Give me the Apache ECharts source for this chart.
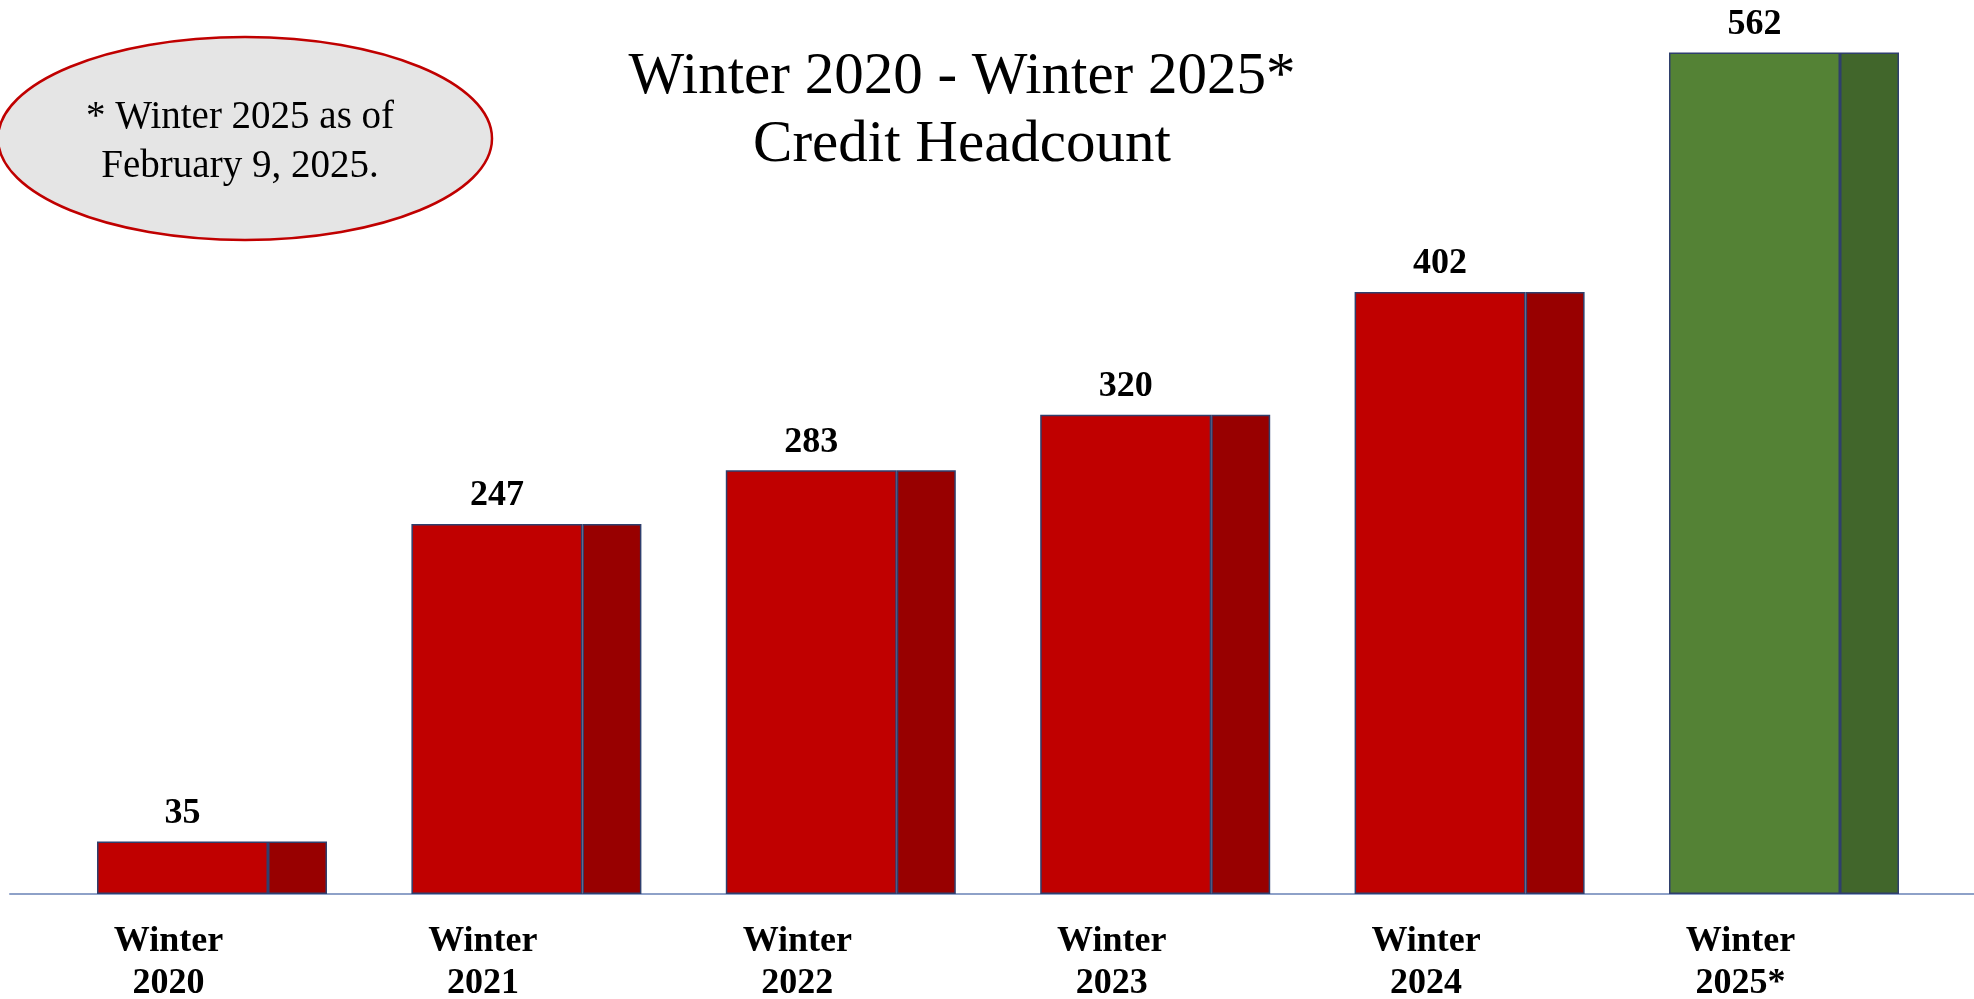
<!DOCTYPE html>
<html>
<head>
<meta charset="utf-8">
<title>Credit Headcount</title>
<script src="https://cdn.jsdelivr.net/npm/echarts@6/dist/echarts.min.js"></script>
<style>
  html, body { margin: 0; padding: 0; background: #ffffff; }
  #chart { width: 1974px; height: 999px; }
</style>
</head>
<body>
<div id="chart"></div>
<script>
// Winter-term credit headcount, 2020 through 2025 (2025 is a partial count)
const categories = ['Winter 2020', 'Winter 2021', 'Winter 2022', 'Winter 2023', 'Winter 2024', 'Winter 2025*'];
const headcount = [35, 247, 283, 320, 402, 562];

const titleLines = ['Winter 2020 - Winter 2025*', 'Credit Headcount'];
const noteLines = ['* Winter 2025 as of', 'February 9, 2025.'];

const SERIF = "'Liberation Serif', 'Times New Roman', Times, serif";
const RED = '#C00000', RED_SIDE = '#980000';
const GREEN = '#548235', GREEN_SIDE = '#41662B';
const EDGE = '#2F3F6D';
const lastIdx = categories.length - 1;

const chart = echarts.init(document.getElementById('chart'), null, { renderer: 'canvas' });

chart.setOption({
  backgroundColor: '#ffffff',
  animation: false,
  title: {
    text: titleLines.join('\n'),
    left: 962,
    top: 43,
    padding: 0,
    textAlign: 'center',
    textStyle: {
      fontFamily: SERIF,
      fontSize: 59,
      fontWeight: 'normal',
      lineHeight: 68,
      color: '#000000'
    }
  },
  grid: [
    { left: 54.8, right: 32.8, top: 0, bottom: 105, outerBoundsMode: 'none', containLabel: false },
    { left: 10, right: 0, top: 0, bottom: 105, outerBoundsMode: 'none', containLabel: false }
  ],
  xAxis: [
    {
      type: 'category',
      gridIndex: 0,
      data: categories,
      axisLine: { show: false },
      axisTick: { show: false },
      axisLabel: {
        interval: 0,
        margin: 27,
        fontFamily: SERIF,
        fontSize: 36,
        fontWeight: 'bold',
        lineHeight: 42,
        color: '#000000',
        padding: [0, 87, 0, 0],
        formatter: (v) => v.replace(' ', '\n')
      }
    },
    {
      // full-width baseline under the bars
      type: 'value',
      gridIndex: 1,
      min: 0,
      max: 1,
      axisLine: { show: true, lineStyle: { color: '#8EA1C8', width: 2 } },
      axisTick: { show: false },
      axisLabel: { show: false },
      splitLine: { show: false }
    }
  ],
  yAxis: [
    { type: 'value', gridIndex: 0, min: 0, max: 597, show: false },
    { type: 'value', gridIndex: 1, min: 0, max: 1, show: false }
  ],
  series: [
    {
      name: 'Headcount',
      type: 'bar',
      xAxisIndex: 0,
      yAxisIndex: 0,
      data: headcount,
      barWidth: 171,
      barGap: '0%',
      itemStyle: {
        color: (p) => (p.dataIndex === lastIdx ? GREEN : RED),
        borderColor: EDGE,
        borderWidth: 1.5
      },
      label: {
        show: true,
        position: 'top',
        distance: 10,
        fontFamily: SERIF,
        fontSize: 36,
        fontWeight: 'bold',
        color: '#000000'
      },
      z: 3
    },
    {
      name: 'Side',
      type: 'bar',
      xAxisIndex: 0,
      yAxisIndex: 0,
      data: headcount,
      barWidth: 59,
      barGap: '0%',
      itemStyle: {
        color: (p) => (p.dataIndex === lastIdx ? GREEN_SIDE : RED_SIDE),
        borderColor: EDGE,
        borderWidth: 1.5
      },
      z: 2
    }
  ],
  graphic: [
    {
      type: 'ellipse',
      shape: { cx: 245, cy: 138.5, rx: 247, ry: 101.5 },
      style: { fill: '#E5E5E5', stroke: '#C00000', lineWidth: 2.5 },
      z: 10
    },
    {
      type: 'text',
      x: 240,
      y: 142,
      style: {
        text: noteLines.join('\n'),
        fontFamily: SERIF,
        fontSize: 39,
        lineHeight: 49,
        fill: '#000000',
        align: 'center',
        verticalAlign: 'middle'
      },
      z: 11
    }
  ]
});
</script>
</body>
</html>
